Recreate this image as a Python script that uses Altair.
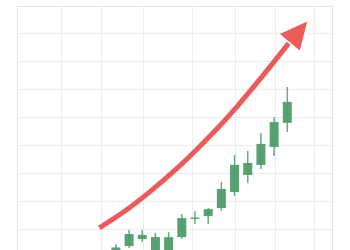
import altair as alt
import pandas as pd

# Candles (index, open, high, low, close)
idx = [0, 1, 2, 3, 4, 5, 6, 7, 8, 9, 10, 11, 12, 13]
opens = [90.0, 93.9, 96.4, 91.0, 91.0, 97.1, 103.6, 104.6, 107.5, 113.2, 119.3, 122.9, 129.3, 137.9]
closes = [93.4, 98.2, 97.9, 97.1, 97.1, 103.9, 104.1, 107.1, 114.3, 122.9, 123.6, 130.4, 138.2, 145.4]
highs = [94.6, 99.6, 99.6, 98.6, 98.9, 105.4, 106.4, 107.5, 116.8, 126.4, 127.9, 134.3, 140.0, 150.7]
lows = [89.0, 93.2, 95.4, 90.0, 90.0, 96.4, 101.8, 101.8, 106.4, 111.8, 116.4, 121.4, 126.1, 134.6]

# Trend arrow path (data units)
arrow_x = [-1.25, 0.44, 2.50, 4.48, 6.32, 7.79, 9.25, 10.94, 13.1]
arrow_y = [100.4, 105.6, 113.0, 121.0, 129.3, 136.4, 144.1, 153.6, 166.3]
head_x = [13.85]
head_y = [170.4]

# Grid positions
x_grid = [-4.19, -1.10, 2.06, 5.80, 9.03, 12.05, 15.06]
y_grid = [100, 110, 120, 130, 140, 150, 160, 170]

x_domain = [-7.12, 16.01]
y_domain = [92.5, 179.64]

GREEN = "#4f9d6a"
RED = "#ee5a5a"

candles = pd.DataFrame({"i": idx, "open": opens, "close": closes, "high": highs, "low": lows})
arrow = pd.DataFrame({"x": arrow_x, "y": arrow_y, "o": list(range(len(arrow_x)))})
head = pd.DataFrame({"x": head_x, "y": head_y})

xs = alt.Scale(domain=x_domain, nice=False, zero=False)
ys = alt.Scale(domain=y_domain, nice=False, zero=False)
xax = alt.Axis(values=x_grid, labels=False, ticks=False, domain=False, title=None,
               grid=True, gridColor="#ececec", gridWidth=1)
yax = alt.Axis(values=y_grid, labels=False, ticks=False, domain=False, title=None,
               grid=True, gridColor="#ececec", gridWidth=1)

base = alt.Chart(candles)

wicks = base.mark_rule(color=GREEN, strokeWidth=1.5, opacity=0.85, clip=True).encode(
    x=alt.X("i:Q", scale=xs, axis=xax),
    y=alt.Y("low:Q", scale=ys, axis=yax),
    y2="high:Q",
)

bodies = base.mark_bar(color=GREEN, size=9, clip=True, opacity=0.95).encode(
    x=alt.X("i:Q", scale=xs, axis=xax),
    y=alt.Y("open:Q", scale=ys, axis=yax),
    y2="close:Q",
)

shaft = alt.Chart(arrow).mark_line(color=RED, strokeWidth=5, interpolate="monotone",
                                   strokeCap="butt", clip=True).encode(
    x=alt.X("x:Q", scale=xs, axis=xax),
    y=alt.Y("y:Q", scale=ys, axis=yax),
    order="o:Q",
)

arrowhead = alt.Chart(head).mark_point(
    shape="M0,-1L-0.96,1L0.96,1Z", filled=True, color=RED, opacity=1,
    size=729, angle=40, strokeWidth=0,
).encode(
    x=alt.X("x:Q", scale=xs, axis=xax),
    y=alt.Y("y:Q", scale=ys, axis=yax),
)

chart = alt.layer(wicks, bodies, shaft, arrowhead).properties(
    width=315, height=244,
    autosize=alt.AutoSizeParams(type="none"),
    padding={"left": 17, "top": 6, "right": 18, "bottom": 0},
    background="#ffffff",
).configure_view(stroke="#e4e4e4", strokeWidth=1)

chart.save("out.html", embed_options={"renderer": "svg", "actions": False})
